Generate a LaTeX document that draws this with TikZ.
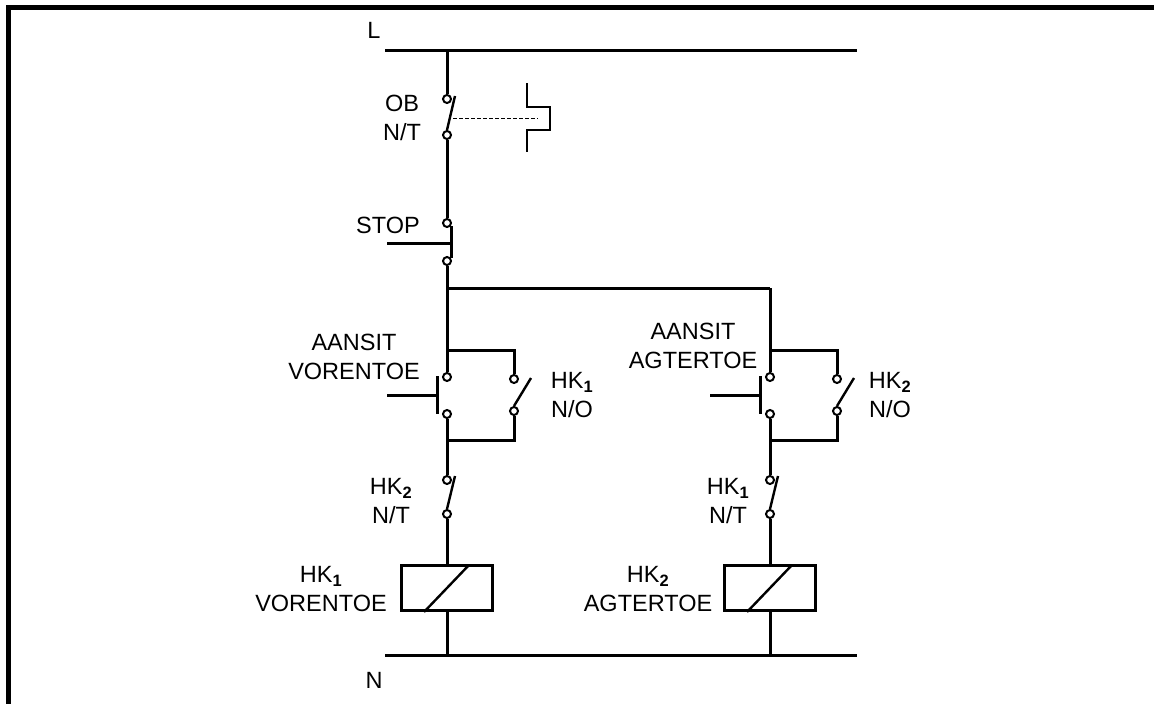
\documentclass[tikz,border=0pt]{standalone}
\usepackage{fontspec}
\setmainfont{Liberation Sans}
\usetikzlibrary{positioning, calc}

\begin{document}
\begin{tikzpicture}[x=1pt,y=-1pt,line width=3pt]
\useasboundingbox (0,0) rectangle (1154,704);
\tikzstyle{every node}=[font=\fontsize{23.5}{29}\selectfont, align=center];
\tikzstyle{term}=[draw, circle, line width=2pt, fill=white,
                  inner sep=0pt, minimum size=8pt];
\tikzstyle{blade}=[line width=2.4pt];
\tikzstyle{coilbox}=[draw, rectangle, inner sep=0pt,
                     minimum width=91pt, minimum height=45pt];
\newcommand{\hk}[1]{HK\textsubscript{\textbf{#1}}}
% frame
\draw [line width=5pt] (8,704) -- (8,7.5) -- (1154,7.5);
% supply rails
\coordinate (L1) at (385,50);
\coordinate (L2) at (857,50);
\coordinate (N1) at (385,655);
\coordinate (N2) at (857,655);
\draw (L1) -- (L2);
\draw (N1) -- (N2);
\node (Ltxt) at (374,30) {L};
\node (Ntxt) at (374,680) {N};
% overload and stop
\coordinate (Ltap) at (447,50);
\node [term] (obT) at (447,99) {};
\node [term] (obB) at (447,135) {};
\coordinate (obtip) at (455,96);
\node [term] (stT) at (447,223) {};
\node [term] (stB) at (447,261) {};
\coordinate (stbar1) at (451,226);
\coordinate (stbar2) at (451,258);
\coordinate (stpush) at (387,243);
\coordinate (split) at (447,288);
\coordinate (splitR) at (770,288);
\draw (Ltap) -- (obT);
\draw (obB) -- (stT);
\draw [blade] (obB.north) -- (obtip);
\draw [line width=1pt, dash pattern=on 4pt off 2pt] (453,118) -- (538,118);
\draw [line width=2.4pt] (527,83) |- (550,107) |- (527,130) -- (527,152);
\draw (stbar1) -- (stbar2);
\draw (stpush) -- (stpush -| stbar1);
\draw (stB) -- (split) -- (splitR);
% two branches
\foreach \x/\n in {447/l, 770/r} {
	\coordinate (sp\n) at (\x,288);
	\coordinate (top\n) at (\x,350);
	\coordinate (bot\n) at (\x,440);
	\node [term] (pbT\n) at (\x,377) {};
	\node [term] (pbB\n) at (\x,414) {};
	\node [term] (hoT\n) at (\x+67,379) {};
	\node [term] (hoB\n) at (\x+67,411) {};
	\node [term] (ntT\n) at (\x,480) {};
	\node [term] (ntB\n) at (\x,514) {};
	\node [coilbox] (coil\n) at (\x,587.5) {};
	\coordinate (nb\n) at (\x,655);
	\draw (sp\n) -- (top\n) -- (pbT\n);
	\draw (top\n) -| (hoT\n);
	\draw (pbB\n) -- (bot\n) -- (ntT\n);
	\draw (bot\n) -| (hoB\n);
	\draw [blade] (hoB\n.north) -- ($(hoT\n)+(17,-1)$);
	\draw [blade] (ntB\n.north) -- ($(ntT\n)+(8,-4)$);
	\draw (\x-10,376) -- (\x-10,414);
	\draw (\x-60,395) -- (\x-10,395);
	\draw [blade] (\x-23,612) -- (\x+22,565);
	\draw (ntB\n) -- (coil\n);
	\draw (coil\n) -- (nb\n);
}
% labels
\node (obtxt) at (402,118) {OB\\N/T};
\node (sttxt) at (388,225) {STOP};
\node (pbtxtl) at (354,357) {AANSIT\\VORENTOE};
\node (pbtxtr) at (693,346) {AANSIT\\AGTERTOE};
\node (hotxtl) at (572,395) {\hk{1}\\N/O};
\node (hotxtr) at (890,395) {\hk{2}\\N/O};
\node (nttxtl) at (391,501) {\hk{2}\\N/T};
\node (nttxtr) at (728,501) {\hk{1}\\N/T};
\node (coiltxtl) at (321,589) {\hk{1}\\VORENTOE};
\node (coiltxtr) at (648,589) {\hk{2}\\AGTERTOE};
\end{tikzpicture}
\end{document}
